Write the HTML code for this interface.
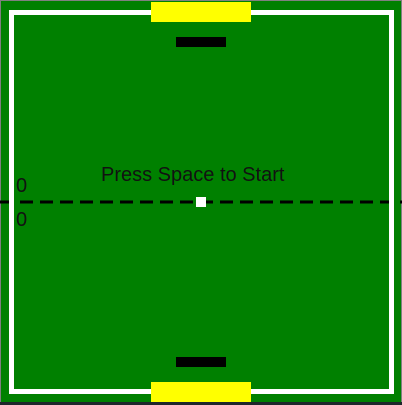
<!DOCTYPE html>
<html><head><meta charset="utf-8"><style>
html,body{margin:0;padding:0;background:#1f262b;}
#game{position:relative;width:402px;height:405px;overflow:hidden;background:#1f262b;}
.a{position:absolute;}
</style></head><body>
<div id="game">
<div class="a" style="left:0;top:0;width:402px;height:402px;background:#808080;"></div>
<div class="a" style="left:1px;top:1px;width:400px;height:401px;background:#008000;"></div>
<svg class="a" style="left:0;top:0" width="402" height="405">
<line x1="0" y1="202" x2="402" y2="202" stroke="#000" stroke-width="3" stroke-dasharray="13 7"/>
</svg>
<div class="a" style="left:9px;top:10px;width:375px;height:374px;border:5px solid #fff;"></div>
<div class="a" style="left:151px;top:2px;width:100px;height:20px;background:#ffff00;"></div>
<div class="a" style="left:151px;top:382px;width:100px;height:20px;background:#ffff00;"></div>
<div class="a" style="left:176px;top:37px;width:50px;height:10px;background:#000;"></div>
<div class="a" style="left:176px;top:357px;width:50px;height:10px;background:#000;"></div>
<div class="a" style="left:196px;top:197px;width:10px;height:10px;background:#fff;"></div>
<div class="a" style="left:101px;top:164px;font:20px 'Liberation Sans',sans-serif;color:#111;white-space:nowrap;">Press Space to Start</div>
<div class="a" style="left:16px;top:175px;font:20px 'Liberation Sans',sans-serif;color:#111;">0</div>
<div class="a" style="left:16px;top:209px;font:20px 'Liberation Sans',sans-serif;color:#111;">0</div>
</div>
</body></html>
